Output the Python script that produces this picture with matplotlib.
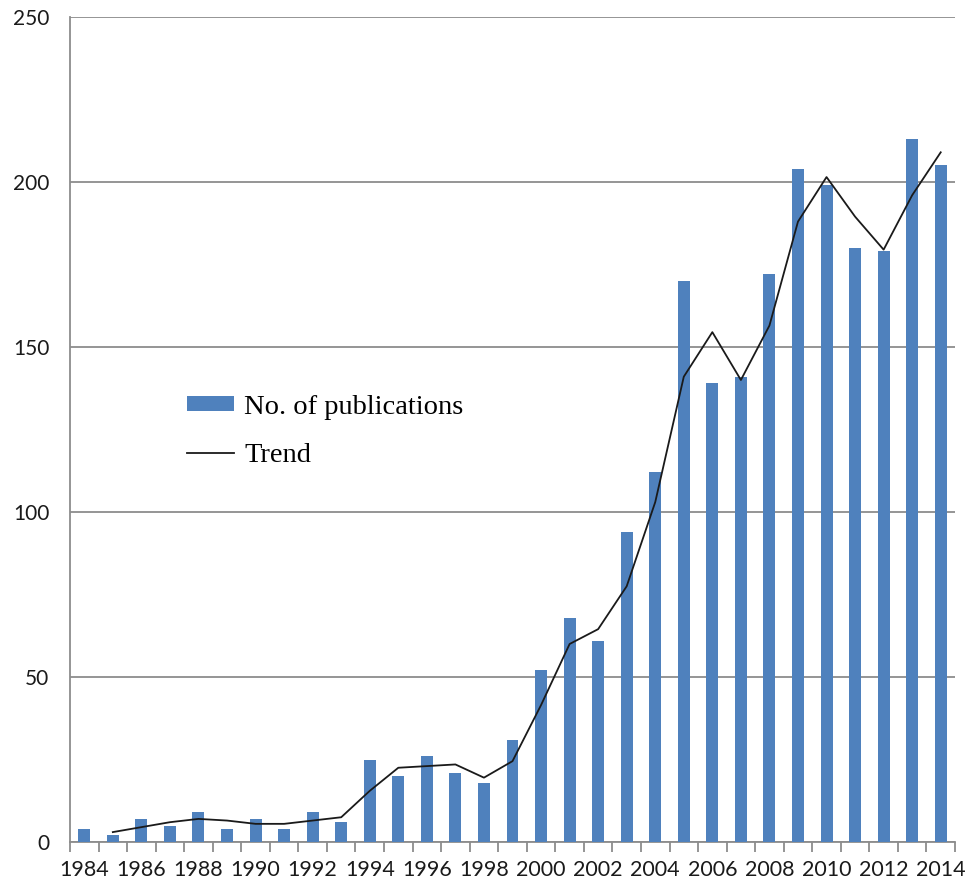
import numpy as np
import matplotlib
matplotlib.use("Agg")
import matplotlib.pyplot as plt
from matplotlib.patches import Patch
from matplotlib.lines import Line2D

# ── Data ──
years = list(range(1984, 2015))
publications = [4, 2, 7, 5, 9, 4, 7, 4, 9, 6, 25, 20, 26, 21, 18, 31,
                52, 68, 61, 94, 112, 170, 139, 141, 172, 204, 199, 180, 179, 213, 205]
trend_years = list(range(1985, 2015))
trend = [3, 4.5, 6, 7, 6.5, 5.5, 5.5, 6.5, 7.5, 15.5, 22.5, 23, 23.5, 19.5, 24.5,
         41.5, 60, 64.5, 77.5, 103, 141, 154.5, 140, 156.5, 188, 201.5, 189.5,
         179.5, 196, 209]
label_years = [str(y) if y % 2 == 0 else "" for y in years]

BAR_COLOR = "#4F81BD"
GRID_COLOR = "#8c8c8c"
TEXT_COLOR = "#1a1a1a"

fig = plt.figure(figsize=(9.66, 8.9), dpi=100)
ax = fig.add_axes([70 / 966, 48 / 890, 885 / 966, 825 / 890])

x = np.arange(len(years))
ax.bar(x, publications, width=0.42, color=BAR_COLOR, zorder=3)
tx = np.array([years.index(y) for y in trend_years])
ax.plot(tx, trend, color="#1a1a1a", linewidth=1.3, zorder=4)

ax.set_xlim(-0.5, len(years) - 0.5)
ax.set_ylim(0, 250)
ax.set_yticks([0, 50, 100, 150, 200, 250])
ax.yaxis.grid(True, color=GRID_COLOR, linewidth=1.3, zorder=0)
ax.tick_params(axis="y", length=0, pad=15, labelsize=15, colors=TEXT_COLOR)

# labels at category centres, tick marks at category boundaries
ax.set_xticks(x)
ax.set_xticklabels(label_years)
ax.set_xticks(np.arange(-0.5, len(years)), minor=True)
ax.tick_params(axis="x", which="major", length=0, pad=13, labelsize=15.5, colors=TEXT_COLOR)
ax.tick_params(axis="x", which="minor", length=7, width=1.3, color=GRID_COLOR)

for s in ["top", "right"]:
    ax.spines[s].set_visible(False)
ax.spines["left"].set_color(GRID_COLOR)
ax.spines["left"].set_linewidth(1.3)
ax.spines["bottom"].set_color(GRID_COLOR)
ax.spines["bottom"].set_linewidth(1.3)

for lbl in ax.get_xticklabels() + ax.get_yticklabels():
    lbl.set_fontfamily("Lato")

handles = [Patch(facecolor=BAR_COLOR, edgecolor="none"),
           Line2D([0], [0], color="#1a1a1a", linewidth=1.3)]
fig.legend(handles, ["No. of publications", "Trend"], loc="upper left",
           bbox_to_anchor=(187 / 966, 1 - 395 / 890), frameon=False,
           prop={"family": "Liberation Serif", "size": 20.5},
           borderpad=0, borderaxespad=0,
           handlelength=1.65, handleheight=0.42, handletextpad=0.35, labelspacing=0.8)

fig.savefig("out.png", dpi=100)
